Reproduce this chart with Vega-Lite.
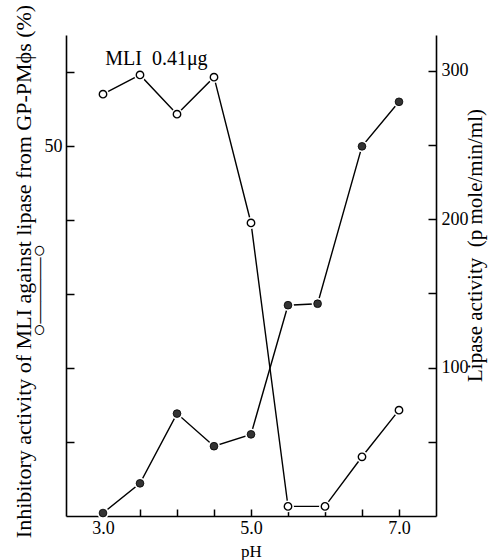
{
  "$schema": "https://vega.github.io/schema/vega-lite/v6.json",
  "width": 370,
  "height": 481,
  "padding": {"left": 66, "top": 35, "right": 52, "bottom": 44},
  "autosize": {"type": "none"},
  "background": "white",
  "config": {
    "view": {"stroke": null},
    "font": "Liberation Serif",
    "axis": {
      "grid": false,
      "domainColor": "black",
      "domainWidth": 1.6,
      "tickColor": "black",
      "tickWidth": 1.5,
      "labelFont": "Liberation Serif",
      "labelFontSize": 18,
      "labelColor": "black",
      "titleFont": "Liberation Serif",
      "titleFontSize": 20,
      "titleFontWeight": "normal",
      "titleColor": "black"
    }
  },
  "datasets": {
    "inh": [
      {"pH": 3.0, "v": 57.0},
      {"pH": 3.5, "v": 59.6},
      {"pH": 4.0, "v": 54.3},
      {"pH": 4.5, "v": 59.3},
      {"pH": 5.0, "v": 39.6},
      {"pH": 5.5, "v": 1.3},
      {"pH": 6.0, "v": 1.3},
      {"pH": 6.5, "v": 8.0},
      {"pH": 7.0, "v": 14.3}
    ],
    "lip": [
      {"pH": 3.0, "v": 2},
      {"pH": 3.5, "v": 22},
      {"pH": 4.0, "v": 69},
      {"pH": 4.5, "v": 47},
      {"pH": 5.0, "v": 55},
      {"pH": 5.5, "v": 142},
      {"pH": 5.9, "v": 143},
      {"pH": 6.5, "v": 249},
      {"pH": 7.0, "v": 279}
    ],
    "note": [
      {"label": "MLI\u00a0 0.41μg"}
    ]
  },
  "layer": [
    {
      "data": {"name": "inh"},
      "encoding": {
        "x": {
          "field": "pH",
          "type": "quantitative",
          "scale": {"domain": [2.5, 7.5], "nice": false, "zero": false},
          "axis": {
            "values": [3, 3.5, 4, 4.5, 5, 5.5, 6, 6.5, 7],
            "labelExpr": "datum.value == 3 || datum.value == 5 || datum.value == 7 ? format(datum.value, '.1f') : ''",
            "tickSize": -7,
            "labelPadding": 10,
            "title": "pH",
            "titleFontSize": 17,
            "titleBaseline": "alphabetic",
            "titleY": 40
          }
        },
        "y": {
          "field": "v",
          "type": "quantitative",
          "scale": {"domain": [0, 65], "nice": false},
          "axis": {
            "orient": "left",
            "values": [10, 20, 30, 40, 50, 60],
            "labelExpr": "datum.value == 50 ? '50' : ''",
            "tickSize": -8,
            "labelPadding": 12,
            "title": ["Inhibitory activity of MLI against lipase from GP-PMϕs (%)", "○———○\u00a0\u00a0\u00a0\u00a0\u2800"],
            "titleFontSize": 22,
            "titleAngle": 270,
            "titleAlign": "center",
            "titleBaseline": "alphabetic",
            "titleLineHeight": 15,
            "titleX": -36,
            "titleY": 236
          }
        }
      },
      "layer": [
        {"mark": {"type": "line", "color": "black", "strokeWidth": 1.4}},
        {"mark": {"type": "point", "shape": "circle", "fill": "white", "stroke": "white", "strokeWidth": 0, "size": 140, "opacity": 1}},
        {"mark": {"type": "point", "shape": "circle", "fill": "white", "stroke": "black", "strokeWidth": 1.4, "size": 55, "opacity": 1}}
      ]
    },
    {
      "data": {"name": "lip"},
      "encoding": {
        "x": {"field": "pH", "type": "quantitative"},
        "y": {
          "field": "v",
          "type": "quantitative",
          "scale": {"domain": [0, 324], "nice": false},
          "axis": {
            "orient": "right",
            "values": [50, 100, 150, 200, 250, 300],
            "labelExpr": "datum.value % 100 == 0 ? format(datum.value, 'd') : ''",
            "tickSize": -8,
            "labelPadding": 13,
            "title": "Lipase activity\u00a0 (p mole/min/ml)",
            "titleFontSize": 21,
            "titleAngle": 270,
            "titleAlign": "center",
            "titleBaseline": "alphabetic",
            "titleX": 45,
            "titleY": 210
          }
        }
      },
      "layer": [
        {"mark": {"type": "line", "color": "black", "strokeWidth": 1.4}},
        {"mark": {"type": "point", "shape": "circle", "fill": "white", "stroke": "white", "strokeWidth": 0, "size": 140, "opacity": 1}},
        {"mark": {"type": "point", "shape": "circle", "fill": "#333333", "stroke": "black", "strokeWidth": 0.8, "size": 60, "opacity": 1}}
      ]
    },
    {
      "data": {"name": "note"},
      "mark": {"type": "text", "fontSize": 20, "align": "left", "baseline": "alphabetic", "font": "Liberation Serif", "color": "black"},
      "encoding": {
        "x": {"datum": 3.03, "type": "quantitative"},
        "y": {"datum": 60.9, "type": "quantitative", "scale": {"domain": [0, 65], "nice": false}, "axis": null},
        "text": {"field": "label", "type": "nominal"}
      }
    }
  ],
  "resolve": {"scale": {"y": "independent"}}
}
